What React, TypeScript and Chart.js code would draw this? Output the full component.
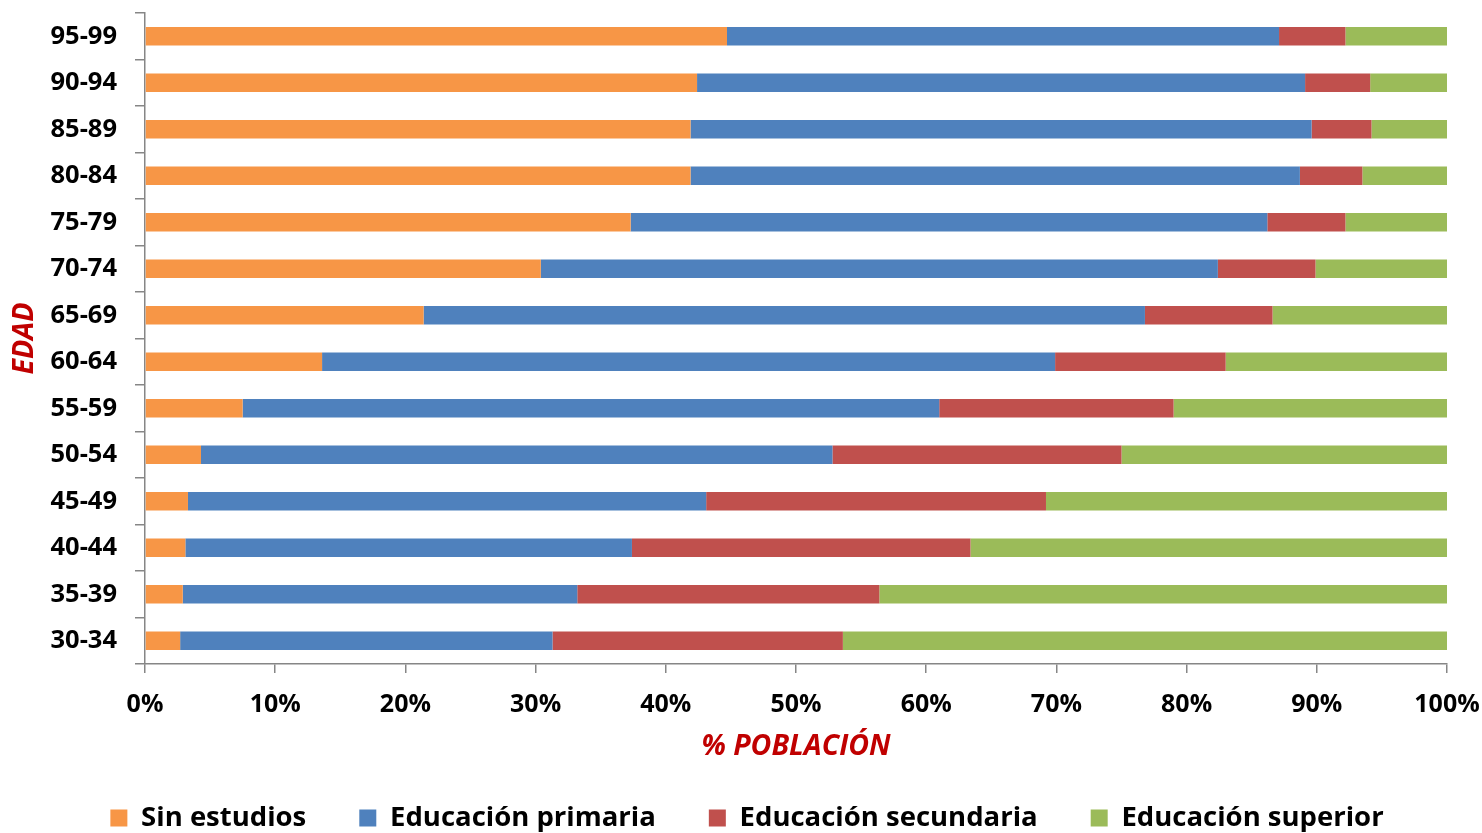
import React, { useEffect, useRef } from "react";
import { Chart, registerables } from "chart.js";

Chart.register(...registerables);

const ageGroups = [
  "95-99", "90-94", "85-89", "80-84", "75-79", "70-74", "65-69",
  "60-64", "55-59", "50-54", "45-49", "40-44", "35-39", "30-34",
];

const sinEstudios = [44.7, 42.4, 41.9, 41.9, 37.3, 30.4, 21.4, 13.6, 7.5, 4.3, 3.3, 3.1, 2.9, 2.7];
const primaria = [42.4, 46.7, 47.7, 46.8, 48.9, 52.0, 55.4, 56.3, 53.5, 48.5, 39.8, 34.3, 30.3, 28.6];
const secundaria = [5.1, 5.0, 4.6, 4.8, 6.0, 7.5, 9.8, 13.1, 18.0, 22.2, 26.1, 26.0, 23.2, 22.3];
const superior = [7.8, 5.9, 5.8, 6.5, 7.8, 10.1, 13.4, 17.0, 21.0, 25.0, 30.8, 36.6, 43.6, 46.4];

const seriesNames = ["Sin estudios", "Educación primaria", "Educación secundaria", "Educación superior"];
const seriesColors = ["#F79646", "#4F81BD", "#C0504D", "#9BBB59"];

const FONT = "'Open Sans', 'Noto Sans', sans-serif";
const AXIS_GRAY = "#868686";
const TITLE_RED = "#C00000";

export default function App() {
  const ref = useRef<HTMLCanvasElement | null>(null);

  useEffect(() => {
    if (!ref.current) return;
    const values = [sinEstudios, primaria, secundaria, superior];
    const chart = new Chart(ref.current, {
      type: "bar",
      data: {
        labels: ageGroups,
        datasets: values.map((d, i) => ({
          label: seriesNames[i],
          data: d,
          backgroundColor: seriesColors[i],
          borderWidth: 0,
          categoryPercentage: 1,
          barPercentage: 0.4,
        })),
      },
      options: {
        indexAxis: "y",
        responsive: false,
        animation: false,
        layout: { padding: { left: 47, right: 35, top: 13, bottom: 0 } },
        plugins: {
          tooltip: { enabled: false },
          legend: {
            position: "bottom",
            maxHeight: 81.75,
            labels: {
              boxWidth: 17,
              boxHeight: 17,
              padding: 53,
              color: "#000",
              font: { family: FONT, size: 27.5, weight: "bold" },
            },
          },
        },
        scales: {
          x: {
            stacked: true,
            min: 0,
            max: 100,
            afterFit: (s: any) => {
              s.height = 87.25;
              s.paddingLeft = 0;
              s.paddingRight = 0;
            },
            border: { display: true, color: AXIS_GRAY, width: 1.5 },
            grid: {
              display: true,
              drawOnChartArea: false,
              drawTicks: true,
              tickLength: 9,
              color: AXIS_GRAY,
              lineWidth: 1.5,
            },
            ticks: {
              stepSize: 10,
              padding: 17,
              color: "#000",
              font: { family: FONT, size: 25, weight: "bold" },
              callback: (v: any) => v + "%",
              maxRotation: 0,
            },
            title: {
              display: true,
              text: "% POBLACIÓN",
              color: TITLE_RED,
              padding: { top: 0, bottom: -12.85 },
              font: { family: FONT, size: 28.5, weight: "bold", style: "italic" },
            },
          },
          y: {
            stacked: true,
            afterFit: (s: any) => {
              s.width = 98;
              s.paddingTop = 0;
              s.paddingBottom = 0;
            },
            border: { display: true, color: AXIS_GRAY, width: 1.5 },
            grid: {
              display: true,
              drawOnChartArea: false,
              drawTicks: true,
              tickLength: 10,
              color: AXIS_GRAY,
              lineWidth: 1.5,
            },
            ticks: {
              padding: 18,
              color: "#000",
              font: { family: FONT, size: 25.5, weight: "bold" },
            },
            title: {
              display: true,
              text: "EDAD",
              color: TITLE_RED,
              padding: { top: -39.6, bottom: 0 },
              font: { family: FONT, size: 28.5, weight: "bold", style: "italic" },
            },
          },
        },
      },
    });
    return () => chart.destroy();
  }, []);

  return (
    <div style={{ position: "absolute", left: 0, top: 0, width: 1482, height: 833, background: "#fff" }}>
      <canvas ref={ref} width={1482} height={833} />
    </div>
  );
}
